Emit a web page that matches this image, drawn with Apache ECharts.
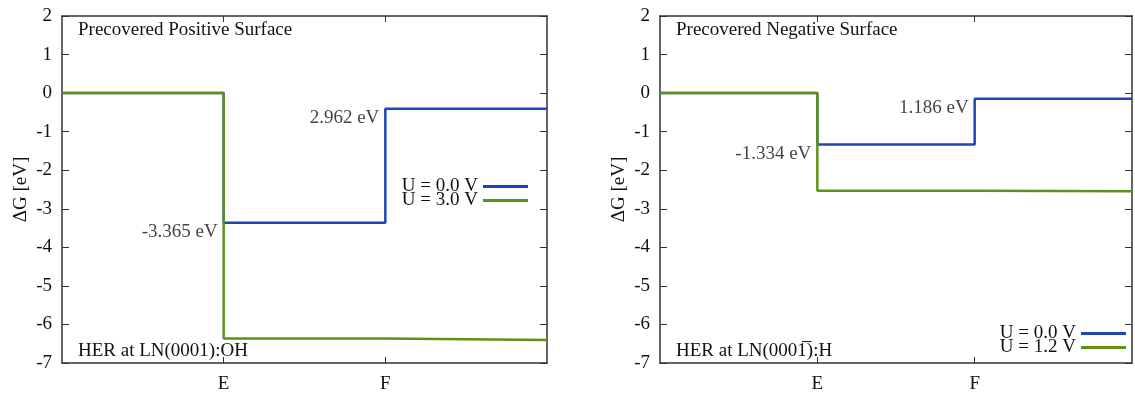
<!DOCTYPE html>
<html>
<head>
<meta charset="utf-8">
<script src="https://cdn.jsdelivr.net/npm/echarts@6/dist/echarts.min.js"></script>
<style>html,body{margin:0;padding:0;background:#fff;}#c{width:1135px;height:394px;}</style>
</head>
<body>
<div id="c"></div>
<script>
// ---- data ----
const categories = ['', 'E', 'F', ''];
const yTicks = { min: -7, max: 2, interval: 1 };

const leftTitle = 'Precovered Positive Surface';
const leftNote = 'HER at LN(0001):OH';
const leftSeriesNames = ['U = 0.0 V', 'U = 3.0 V'];
const leftU0 = [0, -3.365, -0.403, -0.403];
const leftU3 = [0, -6.365, -6.403, -6.403];
const leftLabels = ['-3.365 eV', '2.962 eV'];
const leftLabelPts = [[1, -3.365], [2, -0.403]];

const rightTitle = 'Precovered Negative Surface';
const rightNote = 'HER at LN(000\u0031\u0305):H';
const rightSeriesNames = ['U = 0.0 V', 'U = 1.2 V'];
const rightU0 = [0, -1.334, -0.148, -0.148];
const rightU12 = [0, -2.534, -2.548, -2.548];
const rightLabels = ['-1.334 eV', '1.186 eV'];
const rightLabelPts = [[1, -1.334], [2, -0.148]];

const BLUE = '#1d45b3';
const GREEN = '#5f9118';
const AX = '#333333';
const TXT = '#111111';
const FONT = 'Liberation Serif';
const FS = 19;

const chart = echarts.init(document.getElementById('c'), null, { renderer: 'canvas' });

const grids = [
  { left: 62, top: 16, width: 485, height: 348 },
  { left: 660, top: 16, width: 486, height: 348 }
];

const xAxes = [], yAxes = [], series = [], legends = [], graphics = [];

function tickInt(i) { return i === 1 || i === 2; }

function addPanel(g, title, note, names, s0, s1, labels, labelPts, legRight, legTop) {
  const xi = xAxes.length, yi = yAxes.length;
  xAxes.push({
    type: 'category', gridIndex: g, data: categories, boundaryGap: false, position: 'bottom',
    axisLine: { show: true, onZero: false, lineStyle: { color: AX, width: 1.5 } },
    axisTick: { show: true, inside: true, length: 6, interval: (i) => tickInt(i), lineStyle: { color: AX, width: 1 } },
    axisLabel: { show: true, interval: 0, margin: 12, fontFamily: FONT, fontSize: FS, color: TXT },
    splitLine: { show: false }
  });
  xAxes.push({
    type: 'category', gridIndex: g, data: categories, boundaryGap: false, position: 'top',
    axisLine: { show: true, onZero: false, lineStyle: { color: AX, width: 1.5 } },
    axisTick: { show: true, inside: true, length: 6, interval: (i) => tickInt(i), lineStyle: { color: AX, width: 1 } },
    axisLabel: { show: false }, splitLine: { show: false }
  });
  yAxes.push({
    type: 'value', gridIndex: g, min: yTicks.min, max: yTicks.max, interval: yTicks.interval, position: 'left',
    name: '\u0394G [eV]', nameLocation: 'middle', nameGap: 31, nameRotate: 90,
    nameTextStyle: { fontFamily: FONT, fontSize: FS, color: TXT },
    axisLine: { show: true, onZero: false, lineStyle: { color: AX, width: 1.5 } },
    axisTick: { show: true, inside: true, length: 7, lineStyle: { color: AX, width: 1 } },
    axisLabel: { show: true, margin: 10, fontFamily: FONT, fontSize: FS, color: TXT },
    splitLine: { show: false }
  });
  yAxes.push({
    type: 'value', gridIndex: g, min: yTicks.min, max: yTicks.max, interval: yTicks.interval, position: 'right',
    axisLine: { show: true, onZero: false, lineStyle: { color: AX, width: 1.5 } },
    axisTick: { show: true, inside: true, length: 7, lineStyle: { color: AX, width: 1 } },
    axisLabel: { show: false }, splitLine: { show: false }
  });
  series.push({
    type: 'line', name: names[0], xAxisIndex: xi, yAxisIndex: yi, data: s0, step: 'end',
    symbol: 'none', lineStyle: { color: BLUE, width: 2.5 }, itemStyle: { color: BLUE }, z: 3, silent: true
  });
  series.push({
    type: 'line', name: names[1], xAxisIndex: xi, yAxisIndex: yi, data: s1, step: 'end',
    symbol: 'none', lineStyle: { color: GREEN, width: 2.5 }, itemStyle: { color: GREEN }, z: 4, silent: true
  });
  series.push({
    type: 'scatter', xAxisIndex: xi, yAxisIndex: yi, symbolSize: 0, silent: true,
    data: labelPts.map((p, i) => ({ value: p, label: { formatter: labels[i] } })),
    label: { show: true, position: 'left', distance: 6, offset: [0, 9], fontFamily: FONT, fontSize: FS, color: TXT }
  });
  const gr = grids[g];
  graphics.push({ type: 'text', left: gr.left + 16, top: 21, style: { text: title, font: FS + 'px "' + FONT + '"', fill: TXT } });
  graphics.push({ type: 'text', left: gr.left + 16, top: 342, style: { text: note, font: FS + 'px "' + FONT + '"', fill: TXT } });
  names.forEach((nm, k) => {
    legends.push({
      orient: 'horizontal', align: 'right', data: [nm], itemWidth: 45, itemHeight: 3, padding: 0,
      right: legRight, top: legTop + k * 14,
      icon: 'rect', textStyle: { fontFamily: FONT, fontSize: FS, color: TXT, lineHeight: 19 }, selectedMode: false
    });
  });
}

addPanel(0, leftTitle, leftNote, leftSeriesNames, leftU0, leftU3, leftLabels, leftLabelPts, 607, 177);
addPanel(1, rightTitle, rightNote, rightSeriesNames, rightU0, rightU12, rightLabels, rightLabelPts, 9, 324);

chart.setOption({
  animation: false,
  backgroundColor: '#fff',
  grid: grids,
  xAxis: xAxes,
  yAxis: yAxes,
  series: series,
  legend: legends,
  graphic: graphics
});
</script>
</body>
</html>
